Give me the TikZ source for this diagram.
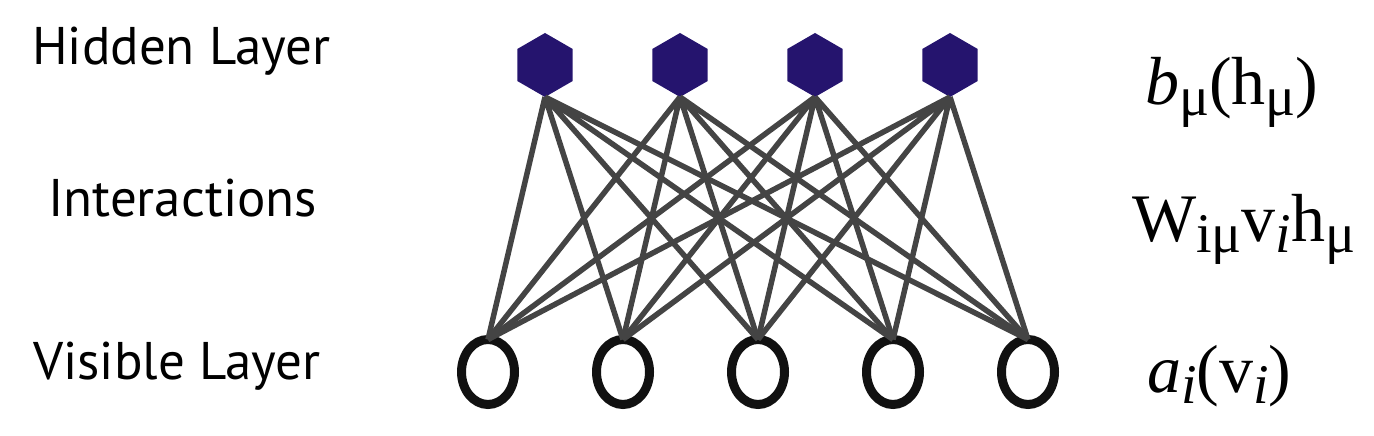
\documentclass[tikz,border=0pt]{standalone}
\usepackage{fontspec}
\setmainfont{Liberation Serif}
\newfontfamily\labelfont{PT Sans}
\usetikzlibrary{shapes.geometric}
\definecolor{hiddenblue}{RGB}{37,20,110}
\definecolor{edgegray}{RGB}{68,68,68}
\definecolor{visblack}{RGB}{17,17,17}
\def\lowsub#1{\raisebox{-11pt}{\fontsize{56}{56}\selectfont #1}}
\tikzset{
	hidden/.style={regular polygon, regular polygon sides=6, shape border rotate=30, minimum size=64pt, inner sep=0pt, outer sep=0pt, fill=hiddenblue},
	visible/.style={ellipse, minimum width=53pt, minimum height=65pt, inner sep=0pt, outer sep=0pt, draw=visblack, line width=9pt, fill=white},
	edge/.style={draw=edgegray, line width=5.5pt},
	layer/.style={anchor=base west, inner sep=0pt, font=\labelfont\fontsize{53}{60}\selectfont},
	term/.style={anchor=base west, inner sep=0pt, font=\fontsize{68}{74}\selectfont}
}

\begin{document}
\begin{tikzpicture}[x=1pt, y=1pt]
		\useasboundingbox (0, 0) rectangle (1374, 436);
		%%%%% NODES %%%%%
		\node[hidden] (h1) at (545, 371) {};
		\node[hidden] (h2) at (680, 371) {};
		\node[hidden] (h3) at (815, 371) {};
		\node[hidden] (h4) at (950, 371) {};
		
		\node[visible] (v1) at (488, 64) {};
		\node[visible] (v2) at (623, 64) {};
		\node[visible] (v3) at (758, 64) {};
		\node[visible] (v4) at (893, 64) {};
		\node[visible] (v5) at (1028, 64) {};
		
		%%%%% EDGES %%%%%
		\draw[edge] (h1.south) -- (v1.north) (h1.south) -- (v2.north) (h1.south) -- (v3.north) (h1.south) -- (v4.north) (h1.south) -- (v5.north);
		\draw[edge] (h2.south) -- (v1.north) (h2.south) -- (v2.north) (h2.south) -- (v3.north) (h2.south) -- (v4.north) (h2.south) -- (v5.north);
		\draw[edge] (h3.south) -- (v1.north) (h3.south) -- (v2.north) (h3.south) -- (v3.north) (h3.south) -- (v4.north) (h3.south) -- (v5.north);
		\draw[edge] (h4.south) -- (v1.north) (h4.south) -- (v2.north) (h4.south) -- (v3.north) (h4.south) -- (v4.north) (h4.south) -- (v5.north);
		
		%%%%% LABELS %%%%%
		\node[layer] (hlabel) at (32, 371) {Hidden Layer};
		\node[layer] (ilabel) at (48, 219) {Interactions};
		\node[layer] (vlabel) at (33, 56) {Visible Layer};
		
		\node[term] (hterm) at (1145, 331) {\textit{b}\lowsub{μ}(h\lowsub{μ})};
		\node[term] (iterm) at (1132, 194) {W\lowsub{iμ}v\lowsub{\textit{i}}h\lowsub{μ}};
		\node[term] (vterm) at (1147, 43) {\textit{a}\lowsub{\textit{i}}(v\lowsub{\textit{i}})};
	\end{tikzpicture}
\end{document}
